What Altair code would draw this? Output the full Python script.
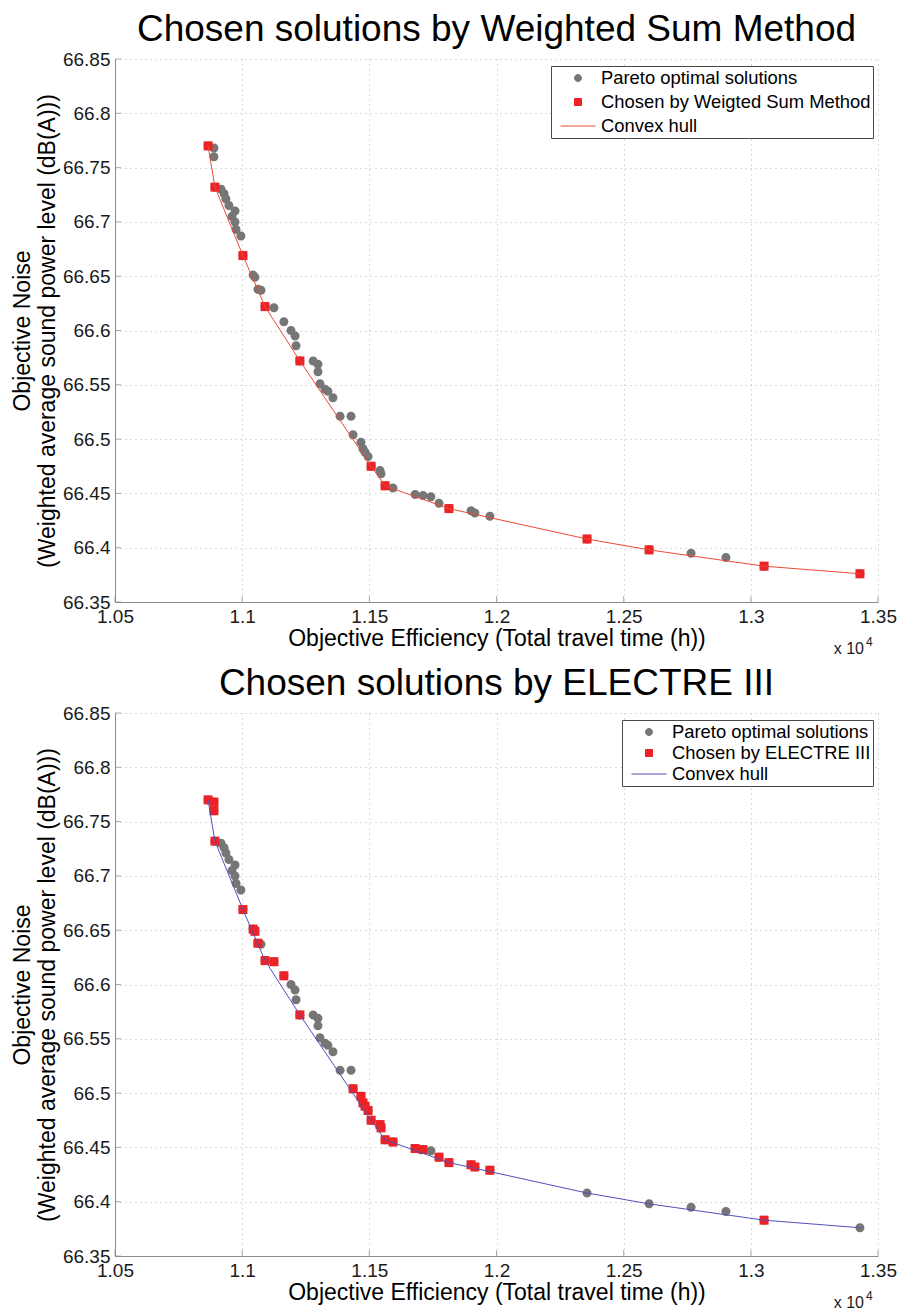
import altair as alt
import pandas as pd

# Total travel time (h) of every Pareto-optimal solution
travel_time_h = [
    10866, 10889, 10889, 10893, 10917, 10929, 10936, 10948, 10972, 10960,
    10972, 10976, 10995, 11003, 11043, 11050, 11062, 11074, 11090, 11125,
    11164, 11192, 11208, 11212, 11227, 11279, 11298, 11298, 11306, 11326,
    11337, 11357, 11385, 11428, 11436, 11467, 11475, 11483, 11495, 11507,
    11542, 11546, 11562, 11593, 11680, 11711, 11742, 11774, 11813, 11900,
    11915, 11974, 12356, 12600, 12765, 12902, 13052, 13429,
]
# Weighted average sound power level (dB(A)) of the same solutions
noise_dba = [
    66.770, 66.768, 66.760, 66.732, 66.730, 66.726, 66.721, 66.715, 66.710, 66.705,
    66.700, 66.693, 66.687, 66.669, 66.651, 66.649, 66.638, 66.637, 66.622, 66.621,
    66.608, 66.600, 66.595, 66.586, 66.572, 66.572, 66.569, 66.562, 66.551, 66.546,
    66.544, 66.538, 66.521, 66.521, 66.504, 66.497, 66.491, 66.488, 66.484, 66.475,
    66.471, 66.468, 66.457, 66.455, 66.449, 66.448, 66.447, 66.441, 66.436, 66.434,
    66.432, 66.429, 66.408, 66.398, 66.395, 66.391, 66.383, 66.376,
]

# Solutions picked by each decision method (positions in the lists above)
wsm_picks = [0, 3, 13, 18, 24, 39, 42, 48, 52, 53, 56, 57]
electre_picks = [
    0, 1, 2, 3, 13, 14, 15, 16, 18, 19, 20, 24, 34, 35, 36, 37, 38, 39,
    40, 41, 42, 43, 44, 45, 47, 48, 49, 50, 51, 56,
]
# Vertices of the lower convex hull of the front
hull_vertices = [0, 3, 13, 18, 24, 39, 42, 48, 52, 53, 56, 57]

x_tick_values = [10500, 11000, 11500, 12000, 12500, 13000, 13500]
y_tick_values = [66.35, 66.40, 66.45, 66.50, 66.55, 66.60, 66.65, 66.70, 66.75, 66.80, 66.85]

PARETO = "Pareto optimal solutions"
HULL = "Convex hull"

FONT = "Liberation Sans"
GRAY = "#767676"
RED = "#ec2227"
AXIS_GRAY = "#8a8a8a"
W, H = 763, 543

# Marker outlines in the unit box [-1, 1]: a small dot, a small square and a
# full-width dash (used for the hull entry in the legend).
DOT = "M0.2,0A0.2,0.2,0,1,1,-0.2,0A0.2,0.2,0,1,1,0.2,0Z"
SQUARE = "M-0.2,-0.2L0.2,-0.2L0.2,0.2L-0.2,0.2Z"
DASH = "M-1,0L1,0"
MARKER_SIZE = 2025   # 9 px markers in the plot
LEGEND_SIZE = 1225   # 7 px markers and a 35 px dash in the legend


def panel(title, picks, pick_label, hull_color, legend_x, row_padding):
    front = pd.DataFrame({"time": travel_time_h, "noise": noise_dba})
    pareto = front.assign(series=PARETO)
    chosen = front.iloc[picks].assign(series=pick_label)
    hull = front.iloc[hull_vertices].sort_values("time").assign(series=HULL)

    domain = [PARETO, pick_label, HULL]
    legend = alt.Legend(
        title=None,
        orient="none",
        legendX=legend_x,
        legendY=7,
        direction="vertical",
        labelFont=FONT,
        labelFontSize=18.4,
        labelColor="#000000",
        labelLimit=600,
        labelOffset=5,
        symbolOffset=7,
        symbolSize=LEGEND_SIZE,
        symbolStrokeWidth=1,
        symbolOpacity=1,
        clipHeight=20,
        rowPadding=row_padding,
        padding=2,
        strokeColor="#4a4a4a",
        fillColor="#ffffff",
    )
    color = alt.Color(
        "series:N",
        scale=alt.Scale(domain=domain, range=[GRAY, RED, hull_color]),
        legend=legend,
    )
    shape = alt.Shape(
        "series:N",
        scale=alt.Scale(domain=domain, range=[DOT, SQUARE, DASH]),
        legend=legend,
    )
    x = alt.X(
        "time:Q",
        scale=alt.Scale(domain=[10500, 13500], nice=False, zero=False),
        axis=alt.Axis(
            values=x_tick_values,
            labelExpr="format(datum.value / 10000, '~g')",
            title="Objective Efficiency (Total travel time (h))",
            labelFlush=False,
            labelOverlap=False,
        ),
    )
    y = alt.Y(
        "noise:Q",
        scale=alt.Scale(domain=[66.35, 66.85], nice=False, zero=False),
        axis=alt.Axis(
            values=y_tick_values,
            labelExpr="format(datum.value, '~g')",
            title=["Objective Noise", "(Weighted average sound power level (dB(A)))"],
            labelOverlap=False,
        ),
    )

    pts = alt.Chart(pareto).mark_point(filled=True, opacity=1, size=MARKER_SIZE).encode(
        x=x, y=y, color=color, shape=shape
    )
    sq = alt.Chart(chosen).mark_point(filled=True, opacity=1, size=MARKER_SIZE).encode(
        x=x, y=y, color=color, shape=shape
    )
    line = alt.Chart(hull).mark_line(strokeWidth=1).encode(x=x, y=y, color=color, order="time:Q")

    # short inward tick marks along the two axes
    xt = alt.Chart(pd.DataFrame({"time": x_tick_values, "noise": [66.35] * len(x_tick_values)})).mark_tick(
        orient="vertical", size=6, thickness=1, color=AXIS_GRAY, yOffset=-3
    ).encode(x=x, y=y)
    yt = alt.Chart(pd.DataFrame({"time": [10500] * len(y_tick_values), "noise": y_tick_values})).mark_tick(
        orient="horizontal", size=6, thickness=1, color=AXIS_GRAY, xOffset=3
    ).encode(x=x, y=y)

    exp_base = alt.Chart(pd.DataFrame({"t": ["x 10"]})).mark_text(
        align="right", baseline="middle", font=FONT, fontSize=16, color="#1a1a1a"
    ).encode(text="t:N", x=alt.value(W - 14), y=alt.value(H + 47))
    exp_pow = alt.Chart(pd.DataFrame({"t": ["4"]})).mark_text(
        align="left", baseline="middle", font=FONT, fontSize=12, color="#1a1a1a"
    ).encode(text="t:N", x=alt.value(W - 12), y=alt.value(H + 40))

    return alt.layer(pts, sq, line, xt, yt, exp_base, exp_pow).properties(
        width=W,
        height=H,
        title=alt.TitleParams(
            title, font=FONT, fontSize=37, fontWeight="normal", color="#000000", anchor="middle", offset=1
        ),
    )


top = panel("Chosen solutions by Weighted Sum Method", wsm_picks,
            "Chosen by Weigted Sum Method", "#ec4a36", 436, 4)
bottom = panel("Chosen solutions by ELECTRE III", electre_picks,
               "Chosen by ELECTRE III", "#5151b9", 507, 1)

chart = (
    alt.vconcat(top, bottom, spacing=8)
    .resolve_scale(color="independent", shape="independent")
    .resolve_legend(color="independent", shape="independent")
    .properties(padding={"left": 11, "top": 11, "right": 0, "bottom": 0})
    .configure_view(stroke=None)
    .configure_axis(
        domainColor=AXIS_GRAY,
        domainWidth=1,
        ticks=False,
        labelFont=FONT,
        labelFontSize=19,
        labelColor="#1a1a1a",
        labelPadding=5,
        titleFont=FONT,
        titleFontSize=23,
        titleFontWeight="normal",
        titleColor="#000000",
        grid=True,
        gridColor="#b4b4b4",
        gridDash=[1, 4],
        gridWidth=1,
    )
    .configure_axisX(titlePadding=1)
    .configure_axisY(titlePadding=3, titleLineHeight=25)
)

chart.save("out.html", embed_options={"renderer": "svg", "actions": False})
